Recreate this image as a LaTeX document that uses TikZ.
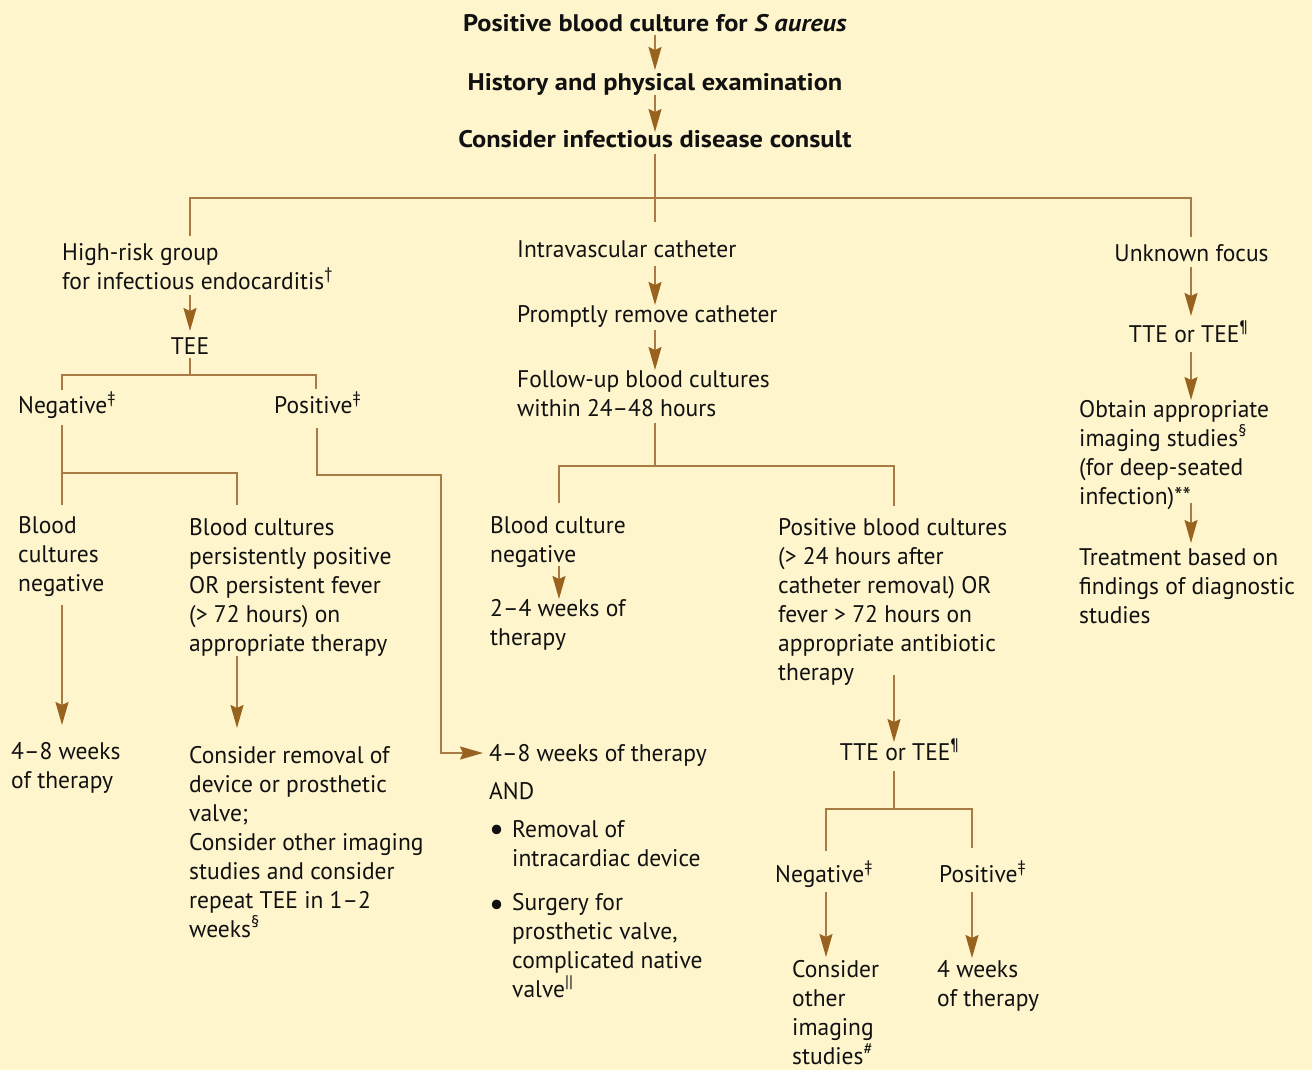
\documentclass[tikz,border=0pt]{standalone}
\usepackage{fontspec}
\setmainfont{PT Sans}[FakeStretch=0.98]
\newfontfamily\ttlfont{PT Sans}[FakeStretch=1.1]
\usetikzlibrary{arrows.meta}
\definecolor{bgc}{HTML}{FEF5CD}
\definecolor{lnc}{HTML}{A87B45}
\definecolor{hdc}{HTML}{98621F}
\definecolor{ink}{HTML}{111111}
\newcommand\supx[1]{\textsuperscript{#1}}
\begin{document}
\begin{tikzpicture}[x=1pt,y=-1pt,
  txt/.style={font=\fontsize{24}{29}\selectfont, inner sep=0pt, align=left, anchor=base west, text=ink},
  ctr/.style={txt, anchor=base, align=center},
  ttl/.style={ctr, font=\fontsize{24}{29}\selectfont\ttlfont\bfseries},
  bul/.style={txt, font=\fontsize{34}{29}\selectfont},
  ln/.style={draw=lnc, line width=1.6pt},
  arr/.style={ln, -{Stealth[length=23pt,width=13pt,inset=3pt,color=hdc]}}]
\useasboundingbox (0,0) rectangle (1312,1070);
\fill[bgc] (0,0) rectangle (1312,1070);
% top (multi-line nodes are placed at the baseline of their last line)
\node[ttl] (t1) at (655,32) {Positive blood culture for \textit{S aureus}};
\node[ttl] (t2) at (655,91) {History and physical examination};
\node[ttl] (t3) at (655,148) {Consider infectious disease consult};
% left column
\node[txt] (hr) at (62,289) {High-risk group\\for infectious endocarditis\supx{†}};
\node[ctr] (tee) at (190,354) {TEE};
\node[txt] (negL) at (18,413) {Negative\supx{‡}};
\node[txt] (posL) at (274,413) {Positive\supx{‡}};
\node[txt] (bcn) at (18,591) {Blood\\cultures\\negative};
\node[txt] (bcp) at (189,651) {Blood cultures\\persistently positive\\OR persistent fever\\(> 72 hours) on\\appropriate therapy};
\node[txt] (w48a) at (11,788) {4--8 weeks\\of therapy};
\node[txt] (crem) at (189,937) {Consider removal of\\device or prosthetic\\valve;\\Consider other imaging\\studies and consider\\repeat TEE in 1--2\\weeks\supx{§}};
\node[txt] (w48b) at (489,761) {4--8 weeks of therapy};
\node[txt] (and) at (489,799) {AND};
\node[bul] (bul1) at (489,840) {•};
\node[txt] (b1) at (512,866) {Removal of\\intracardiac device};
\node[bul] (bul2) at (489,915) {•};
\node[txt] (b2) at (512,997) {Surgery for\\prosthetic valve,\\complicated native\\valve\supx{||}};
% middle column
\node[txt] (iv) at (517,257) {Intravascular catheter};
\node[txt] (prc) at (517,322) {Promptly remove catheter};
\node[txt] (fu) at (517,416) {Follow-up blood cultures\\within 24--48 hours};
\node[txt] (bcneg) at (490,562) {Blood culture\\negative};
\node[txt] (w24) at (490,645) {2--4 weeks of\\therapy};
\node[txt] (pbc) at (778,680) {Positive blood cultures\\(> 24 hours after\\catheter removal) OR\\fever > 72 hours on\\appropriate antibiotic\\therapy};
\node[ctr] (tte2) at (899.5,760) {TTE or TEE\supx{¶}};
\node[txt] (negM) at (775,882) {Negative\supx{‡}};
\node[txt] (posM) at (939,882) {Positive\supx{‡}};
\node[txt] (coi) at (792,1064) {Consider\\other\\imaging\\studies\supx{\#}};
\node[txt] (w4) at (937,1006) {4 weeks\\of therapy};
% right column
\node[ctr] (uf) at (1191.5,261) {Unknown focus};
\node[ctr] (tte1) at (1188.5,342) {TTE or TEE\supx{¶}};
\node[txt] (oai) at (1079,504) {Obtain appropriate\\imaging studies\supx{§}\\(for deep-seated\\infection)**};
\node[txt] (tbo) at (1079,623) {Treatment based on\\findings of diagnostic\\studies};
% junction coordinates
\coordinate (cx) at (655,198);
\coordinate (lx) at (190,198);
\coordinate (rx) at (1191,198);
\coordinate (tj) at (190,375);
\coordinate (tnl) at (62,375);
\coordinate (tpl) at (316,375);
\coordinate (nj) at (62,473);
\coordinate (nr) at (237,473);
\coordinate (pc1) at (317,475);
\coordinate (pc2) at (441,475);
\coordinate (pc3) at (441,753);
\coordinate (fj) at (655,466);
\coordinate (fl) at (559,466);
\coordinate (fr) at (894,466);
\coordinate (mj) at (894,809);
\coordinate (ml) at (826,809);
\coordinate (mr) at (972,809);
% top connectors
\draw[arr] ([yshift=-3pt]t1.base) -- ([yshift=21pt]t2.base);
\draw[arr] ([yshift=-4pt]t2.base) -- ([yshift=16pt]t3.base);
\draw[ln] ([yshift=-6pt]t3.base) -- (cx);
\draw[ln] ([yshift=53pt]hr.base -| lx) -- (lx) -- (rx) -- ([yshift=24pt]uf.base -| rx);
\draw[ln] (cx) -- ([yshift=35pt]iv.base -| cx);
% left connectors
\draw[arr] ([yshift=-6pt]hr.base -| lx) -- ([yshift=23pt]tee.base);
\draw[ln] ([yshift=-4pt]tee.base) -- (tj);
\draw[ln] ([yshift=23pt]negL.base -| tnl) -- (tnl) -- (tpl) -- ([yshift=24pt]posL.base -| tpl);
\draw[ln] ([yshift=-12pt]negL.base -| nj) -- ([yshift=86pt]bcn.base -| nj);
\draw[ln] (nj) -- (nr) -- ([yshift=146pt]bcp.base -| nr);
\draw[arr] ([yshift=-15pt]posL.base -| pc1) -- (pc1) -- (pc2) -- (pc3) -- ([xshift=-6pt]w48b.base west |- pc3);
\draw[arr] ([yshift=-14pt]bcn.base -| nj) -- ([yshift=63pt]w48a.base -| nj);
\draw[arr] ([yshift=-5pt]bcp.base -| nr) -- ([yshift=209pt]crem.base -| nr);
% middle connectors
\draw[arr] ([yshift=-9pt]iv.base -| cx) -- ([yshift=17pt]prc.base -| cx);
\draw[arr] ([yshift=-8pt]prc.base -| cx) -- ([yshift=46pt]fu.base -| cx);
\draw[ln] ([yshift=-7pt]fu.base -| fj) -- (fj);
\draw[ln] ([yshift=59pt]bcneg.base -| fl) -- (fl) -- (fr) -- ([yshift=174pt]pbc.base -| fr);
\draw[arr] ([yshift=-4pt]bcneg.base -| fl) -- ([yshift=46pt]w24.base -| fl);
\draw[arr] ([yshift=5pt]pbc.base -| fr) -- ([yshift=18pt]tte2.base -| fr);
\draw[ln] ([yshift=-11pt]tte2.base -| mj) -- (mj);
\draw[ln] ([yshift=31pt]negM.base -| ml) -- (ml) -- (mr) -- ([yshift=34pt]posM.base -| mr);
\draw[arr] ([yshift=-10pt]negM.base -| ml) -- ([yshift=107pt]coi.base -| ml);
\draw[arr] ([yshift=-10pt]posM.base -| mr) -- ([yshift=48pt]w4.base -| mr);
% right connectors
\draw[arr] ([yshift=-6pt]uf.base -| rx) -- ([yshift=26pt]tte1.base -| rx);
\draw[arr] ([yshift=-10pt]tte1.base -| rx) -- ([yshift=104pt]oai.base -| rx);
\draw[arr] ([yshift=1pt]oai.base -| rx) -- ([yshift=80pt]tbo.base -| rx);
\end{tikzpicture}
\end{document}
